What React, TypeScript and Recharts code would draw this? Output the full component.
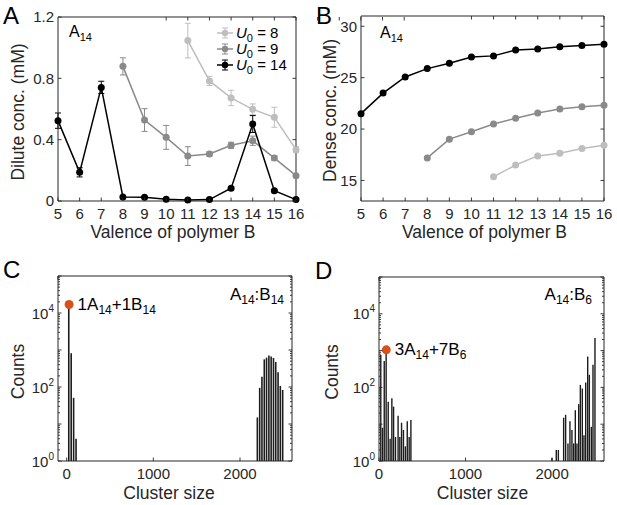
import React from 'react';
import {
  LineChart,
  Line,
  XAxis,
  YAxis,
  ErrorBar,
  Legend,
  ComposedChart,
  Bar,
  ReferenceDot,
  Label,
} from 'recharts';

const W = 617;
const H = 505;
const FONT = '"Liberation Sans", Arial, Helvetica, sans-serif';
const AX = '#262626';
const ORANGE = '#D95319';
const TICK_FS = 15;
const LABEL_FS = 17.5;
const AXW = 1; // thickness reserved for each axis box

// ---------------- Panel A / B data ----------------
const valence = [5, 6, 7, 8, 9, 10, 11, 12, 13, 14, 15, 16];
const diluteTicks = [0, 0.4, 0.8, 1.2];
const diluteTickLabels = ['0', '0.4', '0.8', '1.2'];
const denseTicks = [15, 20, 25, 30];
const denseTickLabels = ['15', '20', '25', '30'];

const diluteU8 = [null, null, null, null, null, null, 1.046, 0.783, 0.672, 0.598, 0.546, 0.335];
const diluteU8Err = [null, null, null, null, null, null, 0.113, 0.03, 0.05, 0.035, 0.065, 0.02];
const diluteU9 = [null, null, null, 0.878, 0.528, 0.415, 0.293, 0.307, 0.363, 0.393, 0.28, 0.165];
const diluteU9Err = [null, null, null, 0.056, 0.074, 0.078, 0.061, 0.015, 0.02, 0.03, 0.015, 0.008];
const diluteU14 = [0.524, 0.187, 0.741, 0.026, 0.024, 0.011, 0.007, 0.009, 0.083, 0.502, 0.067, 0.009];
const diluteU14Err = [0.05, 0.03, 0.04, 0.005, 0.005, 0.003, 0.002, 0.003, 0.01, 0.055, 0.008, 0.003];

const denseU8 = [null, null, null, null, null, null, 15.36, 16.5, 17.39, 17.65, 18.1, 18.43];
const denseU9 = [null, null, null, 17.19, 19.02, 19.74, 20.49, 21.05, 21.57, 21.96, 22.16, 22.32];
const denseU14 = [21.5, 23.5, 25.07, 25.88, 26.4, 27.0, 27.12, 27.7, 27.8, 28.0, 28.14, 28.24];

const seriesU0 = [
  { key: 'u8', err: 'e8', label: '8', color: '#BEBEBE' },
  { key: 'u9', err: 'e9', label: '9', color: '#8A8A8A' },
  { key: 'u14', err: 'e14', label: '14', color: '#000000' },
];

// ---------------- Panel C / D data ----------------
const clusterTicks = [0, 1000, 2000];
const sizesC = [28, 56, 84, 112, 2204, 2231, 2257, 2284, 2310, 2337, 2363, 2390, 2416, 2443, 2469, 2496];
const countsC = [17000, 820, 51, 4, 15, 95, 190, 560, 620, 710, 665, 610, 475, 250, 107, 83];
const sizesD = [
  22, 42, 62, 84, 108, 130, 150, 170, 192, 222, 242, 262, 284, 306, 328, 350, 370,
  2000, 2050, 2074, 2135, 2158, 2185, 2208, 2231, 2251, 2270, 2289, 2309, 2328, 2351, 2370, 2390, 2413, 2432, 2455, 2474, 2497,
];
const countsD = [
  760, 8, 520, 1050, 41, 4, 51, 30, 4.5, 17, 4.5, 11, 7, 2.5, 12, 4.5, 13,
  1.2, 2, 2, 15, 18, 3, 12, 7, 3, 24, 3, 35, 117, 93, 5, 135, 690, 220, 8.5, 410, 2200,
];
const peakC = { size: 28, count: 17000 };
const peakD = { size: 84, count: 1050 };

const logMajorTicks = [1, 10, 100, 1000, 10000, 100000];
const logLabelExponent: Record<number, string> = { 1: '0', 100: '2', 10000: '4' };
const logMinorFactors = [2, 3, 4, 5, 6, 7, 8, 9];
const logAllTicks: number[] = [];
logMajorTicks.forEach((d, i) => {
  logAllTicks.push(d);
  if (i < logMajorTicks.length - 1) logMinorFactors.forEach((f) => logAllTicks.push(d * f));
});

// ---------------- helpers ----------------
// plot area edges (l, t, r, b) -> chart margins, leaving 1px axis boxes outside the plot
function margins(l: number, t: number, r: number, b: number) {
  return { left: l - AXW, top: t - AXW, right: W - r - AXW, bottom: H - b - AXW };
}

type Side = 'left' | 'right' | 'top' | 'bottom';
function makeTick(
  side: Side,
  opts: { len?: (v: number) => number; label?: (v: number, x: number, y: number) => React.ReactNode } = {}
) {
  return (props: any) => {
    const { x, y, payload } = props;
    const v = payload.value as number;
    const L = opts.len ? opts.len(v) : 3.5;
    let x2 = x;
    let y2 = y;
    if (side === 'left') x2 = x + L;
    if (side === 'right') x2 = x - L;
    if (side === 'top') y2 = y + L;
    if (side === 'bottom') y2 = y - L;
    return (
      <g>
        <line x1={x} y1={y} x2={x2} y2={y2} stroke={AX} strokeWidth={0.9} />
        {opts.label ? opts.label(v, x, y) : null}
      </g>
    );
  };
}

const linearLeftLabel = (ticks: number[], labels: string[]) => (v: number, x: number, y: number) => {
  const i = ticks.indexOf(v);
  if (i < 0) return null;
  return (
    <text x={x - 4} y={y + 5.3} textAnchor="end" fontSize={TICK_FS} fill={AX} fontFamily={FONT}>
      {labels[i]}
    </text>
  );
};
const bottomLabel = (v: number, x: number, y: number) => (
  <text x={x} y={y + 17.5} textAnchor="middle" fontSize={TICK_FS} fill={AX} fontFamily={FONT}>
    {String(v)}
  </text>
);
const logLeftLabel = (v: number, x: number, y: number) => {
  const e = logLabelExponent[v];
  if (e === undefined) return null;
  return (
    <text x={x - 4} y={y + 5.5} textAnchor="end" fontSize={TICK_FS} fill={AX} fontFamily={FONT}>
      10
      <tspan dy={-7} fontSize={10}>
        {e}
      </tspan>
    </text>
  );
};
const logLen = (v: number) => (logMajorTicks.includes(v) ? 3.5 : 2);

const xAxisLabel = (text: string, dy: number, dx: number) => (p: any) => {
  const vb = p.viewBox || {};
  return (
    <text x={vb.x + vb.width / 2 + dx} y={vb.y + dy} textAnchor="middle" fontSize={LABEL_FS} fill={AX} fontFamily={FONT}>
      {text}
    </text>
  );
};
const yAxisLabel = (text: string, dx: number, dy: number) => (p: any) => {
  const vb = p.viewBox || {};
  const cx = vb.x + vb.width - dx;
  const cy = vb.y + vb.height / 2 + dy;
  return (
    <text
      x={cx}
      y={cy}
      transform={`rotate(-90 ${cx} ${cy})`}
      textAnchor="middle"
      fontSize={LABEL_FS}
      fill={AX}
      fontFamily={FONT}
    >
      {text}
    </text>
  );
};

const axisCommon = {
  tickSize: 0,
  tickMargin: 0,
  tickLine: false,
  interval: 0 as const,
  axisLine: { stroke: AX, strokeWidth: 1 },
};

function PanelLetter({ x, y, t }: { x: number; y: number; t: string }) {
  return (
    <text x={x} y={y} fontSize={24} fill="#000" fontFamily={FONT}>
      {t}
    </text>
  );
}

function LegendU0() {
  return (
    <svg width={82} height={52} style={{ display: 'block', overflow: 'visible' }}>
      {seriesU0.map((s, i) => {
        const cy = 9 + i * 16;
        return (
          <g key={s.key}>
            <line x1={1} x2={17} y1={cy} y2={cy} stroke={s.color} strokeWidth={1.5} />
            <line x1={9} x2={9} y1={cy - 5} y2={cy + 5} stroke={s.color} strokeWidth={1} />
            <line x1={6} x2={12} y1={cy - 5} y2={cy - 5} stroke={s.color} strokeWidth={1} />
            <line x1={6} x2={12} y1={cy + 5} y2={cy + 5} stroke={s.color} strokeWidth={1} />
            <circle cx={9} cy={cy} r={3.2} fill={s.color} />
            <text x={20} y={cy + 5} fontSize={15} fill="#000" fontFamily={FONT}>
              <tspan fontStyle="italic">U</tspan>
              <tspan dy={4} fontSize={11}>
                0
              </tspan>
              <tspan dy={-4}>{` = ${s.label}`}</tspan>
            </text>
          </g>
        );
      })}
    </svg>
  );
}

// ---------------- Panel A ----------------
function PanelA() {
  const rows = valence.map((v, i) => ({
    v,
    u8: diluteU8[i],
    e8: diluteU8Err[i],
    u9: diluteU9[i],
    e9: diluteU9Err[i],
    u14: diluteU14[i],
    e14: diluteU14Err[i],
  }));
  return (
    <LineChart width={W} height={H} margin={margins(58, 17, 296, 201)} data={rows}>
      <XAxis
        dataKey="v"
        type="number"
        domain={[5, 16]}
        ticks={valence}
        height={AXW}
        {...axisCommon}
        tick={makeTick('bottom', { label: bottomLabel })}
      >
        <Label content={xAxisLabel('Valence of polymer B', 37, -4)} />
      </XAxis>
      <XAxis
        xAxisId="top"
        orientation="top"
        type="number"
        domain={[5, 16]}
        ticks={valence}
        height={AXW}
        allowDataOverflow
        {...axisCommon}
        tick={makeTick('top')}
      />
      <YAxis
        type="number"
        domain={[0, 1.2]}
        ticks={diluteTicks}
        width={AXW}
        {...axisCommon}
        tick={makeTick('left', { label: linearLeftLabel(diluteTicks, diluteTickLabels) })}
      >
        <Label content={yAxisLabel('Dilute conc. (mM)', 34, 3)} />
      </YAxis>
      <YAxis
        yAxisId="right"
        orientation="right"
        type="number"
        domain={[0, 1.2]}
        ticks={diluteTicks}
        width={AXW}
        allowDataOverflow
        {...axisCommon}
        tick={makeTick('right')}
      />
      {seriesU0.map((s) => (
        <Line
          key={s.key}
          dataKey={s.key}
          stroke={s.color}
          strokeWidth={1.5}
          dot={{ r: 3.5, fill: s.color, stroke: s.color, strokeWidth: 0 }}
          activeDot={false}
          connectNulls={false}
          isAnimationActive={false}
        >
          <ErrorBar dataKey={s.err} width={3} stroke={s.color} strokeWidth={1} direction="y" />
        </Line>
      ))}
      <Legend
        layout="vertical"
        align="center"
        verticalAlign="middle"
        wrapperStyle={{ left: 216, top: 24, width: 82, height: 52 }}
        content={() => <LegendU0 />}
      />
      <PanelLetter x={3} y={24} t="A" />
      <text x={69} y={37} fontSize={16} fill="#000" fontFamily={FONT}>
        A
        <tspan dy={4} fontSize={11}>
          14
        </tspan>
      </text>
    </LineChart>
  );
}

// ---------------- Panel B ----------------
function PanelB() {
  const rows = valence.map((v, i) => ({ v, u8: denseU8[i], u9: denseU9[i], u14: denseU14[i] }));
  return (
    <LineChart width={W} height={H} margin={margins(361, 16, 604, 201)} data={rows}>
      <XAxis
        dataKey="v"
        type="number"
        domain={[5, 16]}
        ticks={valence}
        height={AXW}
        {...axisCommon}
        tick={makeTick('bottom', { label: bottomLabel })}
      >
        <Label content={xAxisLabel('Valence of polymer B', 37, 2)} />
      </XAxis>
      <XAxis
        xAxisId="top"
        orientation="top"
        type="number"
        domain={[5, 16]}
        ticks={valence}
        height={AXW}
        allowDataOverflow
        {...axisCommon}
        tick={makeTick('top')}
      />
      <YAxis
        type="number"
        domain={[13, 31]}
        ticks={denseTicks}
        width={AXW}
        {...axisCommon}
        tick={makeTick('left', { label: linearLeftLabel(denseTicks, denseTickLabels) })}
      >
        <Label content={yAxisLabel('Dense conc. (mM)', 25, 2)} />
      </YAxis>
      <YAxis
        yAxisId="right"
        orientation="right"
        type="number"
        domain={[13, 31]}
        ticks={denseTicks}
        width={AXW}
        allowDataOverflow
        {...axisCommon}
        tick={makeTick('right')}
      />
      {seriesU0.map((s) => (
        <Line
          key={s.key}
          dataKey={s.key}
          stroke={s.color}
          strokeWidth={1.5}
          dot={{ r: 3.5, fill: s.color, stroke: s.color, strokeWidth: 0 }}
          activeDot={false}
          connectNulls={false}
          isAnimationActive={false}
        />
      ))}
      <PanelLetter x={316} y={24} t="B" />
      <text x={380} y={38} fontSize={16} fill="#000" fontFamily={FONT}>
        A
        <tspan dy={4} fontSize={11}>
          14
        </tspan>
      </text>
    </LineChart>
  );
}

// ---------------- Panels C / D ----------------
function peakLabel(parts: [string, string][]) {
  return (p: any) => {
    const vb = p.viewBox || {};
    const x = vb.x + vb.width + 4;
    const y = vb.y + vb.height / 2 + 5.5;
    const nodes: React.ReactNode[] = [];
    parts.forEach(([main, sub], i) => {
      nodes.push(
        <tspan key={'m' + i} dy={i === 0 ? 0 : -4}>
          {main}
        </tspan>
      );
      nodes.push(
        <tspan key={'s' + i} dy={4} fontSize={12}>
          {sub}
        </tspan>
      );
    });
    return (
      <text x={x} y={y} fontSize={17} fill="#000" fontFamily={FONT}>
        {nodes}
      </text>
    );
  };
}

function HistPanel(props: {
  plot: [number, number, number, number];
  sizes: number[];
  counts: number[];
  xDomain: [number, number];
  peak: { size: number; count: number };
  peakParts: [string, string][];
  letter: { x: number; y: number; t: string };
  titleParts: [string, string][];
  titleX: number;
  xLabelDx: number;
  yLabelDx: number;
  barSize: number;
}) {
  const rows = props.sizes.map((s, i) => ({ size: s, count: props.counts[i] }));
  const [l, t, r, b] = props.plot;
  return (
    <ComposedChart width={W} height={H} margin={margins(l, t, r, b)} data={rows}>
      <XAxis
        dataKey="size"
        type="number"
        domain={props.xDomain}
        ticks={clusterTicks}
        height={AXW}
        {...axisCommon}
        tick={makeTick('bottom', { label: bottomLabel })}
      >
        <Label content={xAxisLabel('Cluster size', 38, props.xLabelDx)} />
      </XAxis>
      <XAxis
        xAxisId="top"
        orientation="top"
        type="number"
        domain={props.xDomain}
        ticks={clusterTicks}
        height={AXW}
        allowDataOverflow
        {...axisCommon}
        tick={makeTick('top')}
      />
      <YAxis
        type="number"
        scale="log"
        domain={[1, 100000]}
        ticks={logAllTicks}
        width={AXW}
        {...axisCommon}
        tick={makeTick('left', { len: logLen, label: logLeftLabel })}
      >
        <Label content={yAxisLabel('Counts', props.yLabelDx, 3)} />
      </YAxis>
      <YAxis
        yAxisId="right"
        orientation="right"
        type="number"
        scale="log"
        domain={[1, 100000]}
        ticks={logAllTicks}
        width={AXW}
        allowDataOverflow
        {...axisCommon}
        tick={makeTick('right', { len: logLen })}
      />
      <Bar dataKey="count" fill="#1c1c1c" barSize={props.barSize} isAnimationActive={false} />
      <ReferenceDot
        x={props.peak.size}
        y={props.peak.count}
        r={4.5}
        fill={ORANGE}
        stroke="none"
        label={peakLabel(props.peakParts)}
      />
      <PanelLetter x={props.letter.x} y={props.letter.y} t={props.letter.t} />
      <text x={props.titleX} y={300} textAnchor="end" fontSize={17} fill="#000" fontFamily={FONT}>
        {props.titleParts.map(([main, sub], i) => (
          <React.Fragment key={i}>
            <tspan dy={i === 0 ? 0 : -4}>{main}</tspan>
            <tspan dy={4} fontSize={12}>
              {sub}
            </tspan>
          </React.Fragment>
        ))}
      </text>
    </ComposedChart>
  );
}

export default function App() {
  const layer: React.CSSProperties = { position: 'absolute', left: 0, top: 0 };
  return (
    <div style={{ position: 'absolute', left: 0, top: 0, width: W, height: H, background: '#fff', fontFamily: FONT }}>
      <div style={layer}>
        <PanelA />
      </div>
      <div style={layer}>
        <PanelB />
      </div>
      <div style={layer}>
        <HistPanel
          plot={[58, 276, 292, 461]}
          sizes={sizesC}
          counts={countsC}
          xDomain={[-100, 2600]}
          peak={peakC}
          peakParts={[
            ['1A', '14'],
            ['+1B', '14'],
          ]}
          letter={{ x: 3, y: 278, t: 'C' }}
          titleParts={[
            ['A', '14'],
            [':B', '14'],
          ]}
          titleX={284}
          xLabelDx={-6}
          yLabelDx={34}
          barSize={1.6}
        />
      </div>
      <div style={layer}>
        <HistPanel
          plot={[379, 277, 604, 461]}
          sizes={sizesD}
          counts={countsD}
          xDomain={[0, 2600]}
          peak={peakD}
          peakParts={[
            ['3A', '14'],
            ['+7B', '6'],
          ]}
          letter={{ x: 315, y: 279, t: 'D' }}
          titleParts={[
            ['A', '14'],
            [':B', '6'],
          ]}
          titleX={592}
          xLabelDx={-9}
          yLabelDx={41}
          barSize={1.4}
        />
      </div>
    </div>
  );
}
